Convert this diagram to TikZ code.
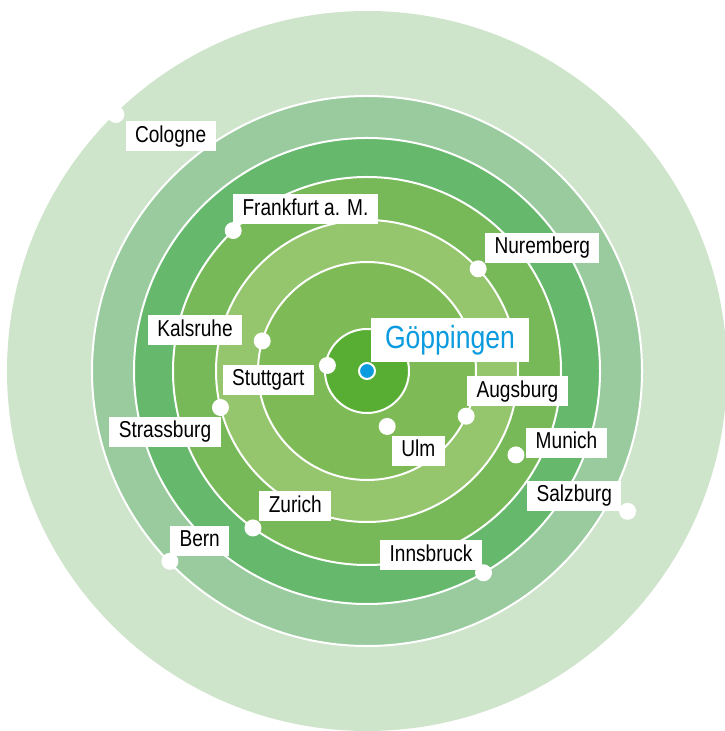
\documentclass[tikz,border=0pt]{standalone}
\usepackage{fontspec}
\setmainfont{Liberation Sans}[FakeStretch=0.83]
\usepackage{tikz}
\usetikzlibrary{positioning}

\definecolor{ringA}{HTML}{CFE5CB}
\definecolor{ringB}{HTML}{9ACB9F}
\definecolor{ringC}{HTML}{66B86C}
\definecolor{ringD}{HTML}{77B858}
\definecolor{ringE}{HTML}{95C56D}
\definecolor{ringF}{HTML}{7EBB56}
\definecolor{core}{HTML}{57AE33}
\definecolor{townblue}{HTML}{0B9BDE}

\begin{document}
\begin{tikzpicture}
                    [
                        x=0.5pt, y=0.5pt,
                        dot/.style={circle, fill=white, inner sep=0pt, minimum size=8.5pt},
                        lbl/.style={fill=white, inner xsep=4.7pt, inner ysep=0pt, minimum height=15pt,
                                    text height=8.5pt, text depth=2.5pt, font=\fontsize{11.5}{12}\selectfont},
                        home/.style={fill=white, text=townblue, inner xsep=7pt, minimum height=22pt,
                                     font=\fontsize{16}{17}\selectfont}
                    ]

                    % Rahmen
                    \useasboundingbox (-367,-360) rectangle (357,371);

                    % Ringe
                    \fill[ringA] (0,0) circle (360);
                    \foreach \r/\c in {275/ringB, 233/ringC, 194/ringD, 151/ringE, 109/ringF, 42/core}
                        \filldraw[fill=\c, draw=white, line width=1pt] (0,0) circle (\r);

                    % Punkte
                    \node[dot] (dCologne)    at (134.4:359) {};
                    \node[dot] (dFrankfurt)  at (133.6:194) {};
                    \node[dot] (dNuremberg)  at (42.6:151) {};
                    \node[dot] (dKalsruhe)   at (164:109) {};
                    \node[dot] (dStuttgart)  at (172:40) {};
                    \node[dot] (dAugsburg)   at (-24.5:109) {};
                    \node[dot] (dUlm)        at (-70:59) {};
                    \node[dot] (dStrassburg) at (194:151) {};
                    \node[dot] (dMunich)     at (-29.4:171) {};
                    \node[dot] (dSalzburg)   at (-28.3:296) {};
                    \node[dot] (dZurich)     at (234:194) {};
                    \node[dot] (dInnsbruck)  at (-60:233) {};
                    \node[dot] (dBern)       at (224:274) {};
                    \node[circle, fill=townblue, draw=white, line width=1pt, inner sep=0pt, minimum size=8pt]
                        (dGoeppingen) at (0,0) {};

                    % Orte
                    \node[lbl] (cologne)    at (-196.4,234.8) {Cologne};
                    \node[lbl] (frankfurt)  at (-61.5,161.5)  {Frankfurt a. M.};
                    \node[lbl] (nuremberg)  at (175.3,123)    {Nuremberg};
                    \node[lbl] (kalsruhe)   at (-172,40.7)    {Kalsruhe};
                    \node[lbl] (stuttgart)  at (-98.7,-9)     {Stuttgart};
                    \node[lbl] (augsburg)   at (150.5,-20.5)  {Augsburg};
                    \node[lbl] (ulm)        at (51.3,-80)     {Ulm};
                    \node[lbl] (munich)     at (199.5,-72)    {Munich};
                    \node[lbl] (salzburg)   at (207.3,-124.8) {Salzburg};
                    \node[lbl] (strassburg) at (-202,-60.7)   {Strassburg};
                    \node[lbl] (zurich)     at (-71.7,-135)   {Zurich};
                    \node[lbl] (innsbruck)  at (64,-184.3)    {Innsbruck};
                    \node[lbl] (bern)       at (-167.3,-169.8) {Bern};
                    \node[home] (goeppingen) at (83,31)       {Göppingen};
                \end{tikzpicture}
\end{document}
